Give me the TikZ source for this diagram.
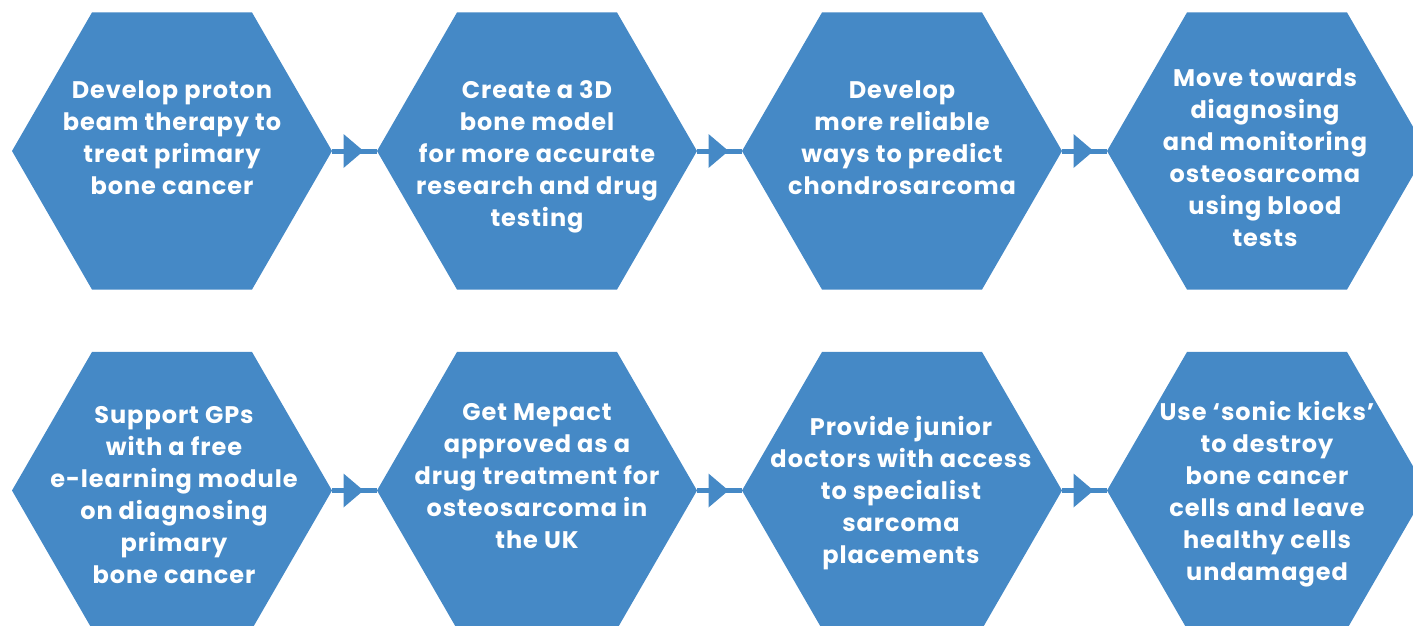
\documentclass[tikz,border=0pt]{standalone}
\usepackage{fontspec}
\setmainfont{Poppins}[LetterSpace=4]
\usetikzlibrary{shapes.geometric,decorations.markings}
\definecolor{hexblue}{RGB}{69,137,198}
\begin{document}
\begin{tikzpicture}[x=1pt,y=-1pt,
  hexa/.style={regular polygon, regular polygon sides=6, minimum size=320pt,
    inner sep=0pt, outer sep=0pt, fill=hexblue, draw=none},
  hextext/.style={text=white, align=center, inner sep=0pt,
    font=\fontsize{24}{32}\selectfont\bfseries},
  link/.style={draw=hexblue, line width=5pt, postaction={decorate},
    decoration={markings, mark=at position 0.5 with
      {\fill[hexblue] (-11pt,17pt) -- (9pt,0pt) -- (-11pt,-17pt) -- cycle;}}}
]
\clip (0,0) rectangle (1413,626);

% top row
\node[hexa] (h1) at (172,151) {};
\node[hexa] (h2) at (537,151) {};
\node[hexa] (h3) at (902,151) {};
\node[hexa] (h4) at (1267,151) {};
% bottom row
\node[hexa] (h5) at (172,490.5) {};
\node[hexa] (h6) at (537,490.5) {};
\node[hexa] (h7) at (902,490.5) {};
\node[hexa] (h8) at (1267,490.5) {};

% connectors with a triangle midway
\draw[link] (h1.east) -- (h2.west);
\draw[link] (h2.east) -- (h3.west);
\draw[link] (h3.east) -- (h4.west);
\draw[link] (h5.east) -- (h6.west);
\draw[link] (h6.east) -- (h7.west);
\draw[link] (h7.east) -- (h8.west);

% labels
\node[hextext] (t1) at (172,138) {Develop proton\\beam therapy to\\treat primary\\bone cancer};
\node[hextext] (t2) at (537,157) {Create a 3D\\bone model\\for more accurate\\research and drug\\testing};
\node[hextext] (t3) at (902,138) {Develop\\more reliable\\ways to predict\\chondrosarcoma};
\node[hextext] (t4) at (1265,158) {Move towards\\diagnosing\\and monitoring\\osteosarcoma\\using blood\\tests};
\node[hextext] (t5) at (174,495) {Support GPs\\with a free\\e-learning module\\on diagnosing\\primary\\bone cancer};
\node[hextext] (t6) at (537,476) {Get Mepact\\approved as a\\drug treatment for\\osteosarcoma in\\the UK};
\node[hextext] (t7) at (901,493) {Provide junior\\doctors with access\\to specialist\\sarcoma\\placements};
\node[hextext] (t8) at (1267,494.5) {Use ‘sonic kicks’\\to destroy\\bone cancer\\cells and leave\\healthy cells\\undamaged};
\end{tikzpicture}
\end{document}
